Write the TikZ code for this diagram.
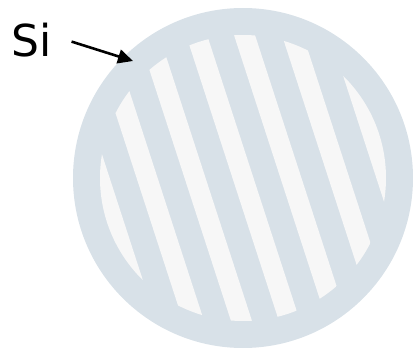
\documentclass[tikz,border=0pt]{standalone}
\usepackage{fontspec}
\usepackage{xcolor}
\usepackage{tikz}
\usetikzlibrary{calc,positioning,arrows.meta}
\newfontfamily\silabelfont{DejaVu Sans}
\definecolor{siring}{HTML}{D8E1E8}
\definecolor{sistripe}{HTML}{F7F7F7}
\definecolor{sitext}{HTML}{000000}

\tikzset{
    silabel/.style={inner sep=0pt, anchor=base west, text=sitext,
        font={\fontsize{44pt}{48pt}\selectfont\silabelfont}},
    siarrow/.style={draw=sitext, line width=2.6pt,
        -{Triangle[length=15pt, width=14pt]}},
}

\begin{document}
\begin{tikzpicture}[x=1pt, y=1pt]
        \useasboundingbox (0, 0) rectangle (413, 349);

        % ----------------------------------------------------
        % WAFER — outer ring
        % ----------------------------------------------------
        \fill[siring] (243, 171) circle (170);

        % ----------------------------------------------------
        % WAFER — slanted stripes inside the inner disk
        % ----------------------------------------------------
        \begin{scope}
            \clip (243, 171) circle (143);
            \begin{scope}[shift={(243, 171)}, rotate=18]
                \foreach \k in {-3,...,3} {
                    \fill[sistripe] ({\k*45.6-10}, -160) rectangle ({\k*45.6+10}, 160);
                }
            \end{scope}
        \end{scope}

        % ----------------------------------------------------
        % LABEL
        % ----------------------------------------------------
        \node[silabel] (si) at (11, 292) {Si};
        \coordinate (sitip) at (133, 288);
        \draw[siarrow] ([xshift=20pt, yshift=-1pt]si.east) -- (sitip);
    \end{tikzpicture}
\end{document}
